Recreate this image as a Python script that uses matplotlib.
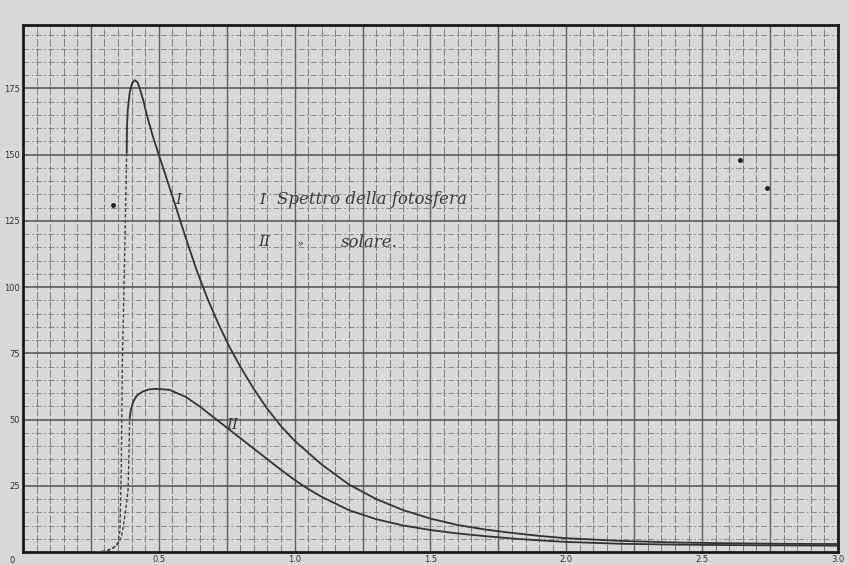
import numpy as np
import matplotlib.pyplot as plt

# Curva I - spettro della fotosfera (tratto pieno)
fotosfera_x = [0.382, 0.383, 0.386, 0.393, 0.402, 0.412, 0.422, 0.430, 0.443, 0.456, 0.478,
               0.50, 0.52, 0.56, 0.60, 0.64, 0.68, 0.72, 0.76, 0.80, 0.85, 0.90, 0.95,
               1.0, 1.1, 1.2, 1.3, 1.4, 1.5, 1.6, 1.7, 1.8, 1.9, 2.0, 2.2, 2.4, 2.6,
               2.8, 3.0]
fotosfera_y = [151.0, 160.7, 167.0, 173.5, 177.0, 178.1, 177.3, 175.0, 170.5, 165.0, 157.0,
               150.0, 143.8, 131.2, 118.4, 106.2, 95.5, 86.0, 77.5, 70.0, 61.5, 54.0, 47.5,
               42.0, 33.0, 25.5, 20.0, 15.8, 12.6, 10.2, 8.5, 7.2, 6.1, 5.2, 4.2, 3.6, 3.3,
               3.1, 3.0]
# tratto punteggiato (inizio curva I)
fotosfera_punt_x = [0.270, 0.300, 0.320, 0.338, 0.350, 0.357, 0.362, 0.366, 0.372, 0.377, 0.382]
fotosfera_punt_y = [0.0, 0.4, 1.0, 2.0, 3.5, 8.0, 30.0, 72.0, 100.0, 125.0, 151.0]

# Curva II - spettro solare (tratto pieno)
solare_x = [0.393, 0.397, 0.405, 0.418, 0.441, 0.465, 0.492, 0.54, 0.60, 0.65, 0.70, 0.75,
            0.80, 0.85, 0.90, 0.95, 1.0, 1.05, 1.1, 1.2, 1.3, 1.4, 1.5, 1.6, 1.7, 1.8,
            1.9, 2.0, 2.2, 2.4, 2.6, 2.8, 3.0]
solare_y = [50.7, 53.5, 56.5, 58.9, 60.6, 61.4, 61.6, 61.2, 58.5, 55.0, 51.0, 47.0,
            43.0, 39.0, 35.0, 31.0, 27.2, 23.8, 20.8, 15.8, 12.4, 10.0, 8.3, 7.0, 6.0, 5.1,
            4.4, 3.8, 3.1, 2.8, 2.6, 2.5, 2.4]
# tratto punteggiato (inizio curva II)
solare_punt_x = [0.290, 0.315, 0.331, 0.350, 0.363, 0.375, 0.387, 0.390, 0.393]
solare_punt_y = [0.0, 0.6, 1.4, 3.0, 5.8, 13.3, 23.4, 35.0, 50.7]

# etichette assi
x_ticks = [0.5, 1.0, 1.5, 2.0, 2.5, 3.0]
x_labels = ['0.5', '1.0', '1.5', '2.0', '2.5', '3.0']
y_ticks = [25, 50, 75, 100, 125, 150, 175]
y_labels = ['25', '50', '75', '100', '125', '150', '175']

carta = '#d8d8d8'
inchiostro = '#333333'
griglia = '#7c7c7c'

fig = plt.figure(figsize=(8.49, 5.65), dpi=100, facecolor=carta)
ax = fig.add_axes([0.027, 0.023, 0.960, 0.933], facecolor=carta)
ax.set_xlim(0, 3.0)
ax.set_ylim(0, 199)

# carta millimetrata
for gx in np.arange(0.05, 3.0, 0.05):
    maggiore = abs(gx / 0.25 - round(gx / 0.25)) < 1e-6
    ax.axvline(gx, color='#5e5e5e' if maggiore else griglia, lw=1.0 if maggiore else 0.7,
               ls='-' if maggiore else (0, (8, 2)), zorder=1)
for gy in np.arange(5, 199, 5):
    if gy % 25 == 0:
        ax.axhline(gy, color='#505050', lw=1.1, zorder=1)
    else:
        ax.axhline(gy, color=griglia, lw=0.6, ls=(0, (7, 3, 2, 3)), zorder=1)

# curve
ax.plot(fotosfera_x, fotosfera_y, color=inchiostro, lw=1.3, zorder=3)
ax.plot(fotosfera_punt_x, fotosfera_punt_y, color='#444444', lw=1.0, ls=(0, (2.5, 1.5)), zorder=3)
ax.plot(solare_x, solare_y, color=inchiostro, lw=1.3, zorder=3)
ax.plot(solare_punt_x, solare_punt_y, color='#444444', lw=1.0, ls=(0, (2.5, 1.5)), zorder=3)

# scritte a mano
testo = dict(color='#3c3c3c', family='DejaVu Serif', style='italic', zorder=4)
ax.text(0.57, 133, 'I', fontsize=11, ha='center', va='center', **testo)
ax.text(0.77, 48, 'II', fontsize=11, ha='center', va='center', **testo)
ax.text(0.882, 133, 'I', fontsize=11, ha='center', va='center', **testo)
ax.text(0.935, 133, 'Spettro della fotosfera', fontsize=12, ha='left', va='center', **testo)
ax.text(0.89, 117, 'II', fontsize=11, ha='center', va='center', **testo)
ax.text(1.02, 116, '»', fontsize=8, ha='center', va='center', **testo)
ax.text(1.17, 117, 'solare.', fontsize=12, ha='left', va='center', **testo)

# macchie della carta
ax.plot([0.33, 2.64, 2.74], [131, 148, 137.6], 'o', color='#222222', ms=2.5, zorder=4)

ax.set_xticks(x_ticks)
ax.set_xticklabels(x_labels)
ax.set_yticks(y_ticks)
ax.set_yticklabels(y_labels)
ax.tick_params(length=0, labelsize=6, labelcolor='#333333', pad=2)
fig.text(0.014, 0.0, '0', fontsize=6, color='#333333', ha='center', va='bottom')

for s in ax.spines.values():
    s.set_linewidth(2.0)
    s.set_color('#1a1a1a')

fig.savefig('out.png', dpi=100, facecolor=carta)
